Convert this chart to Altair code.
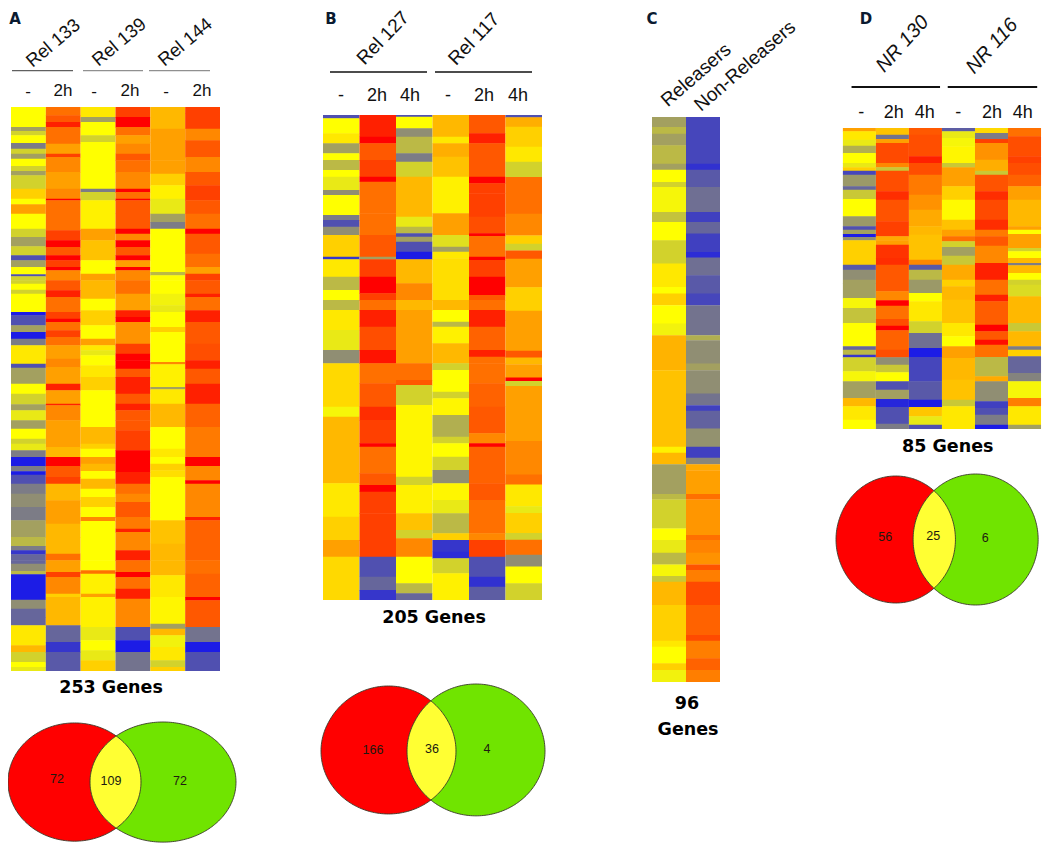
import altair as alt
import numpy as np
import pandas as pd

# Expression level of each heat-map column as (level, span) runs, top to bottom.
# Level: 0 blue, 2 gray, 3 olive, 5 yellow, 7 orange, 10 red.
A1 = [(5,60),(3,12),(4,13),(5,23),(2,17),(4,15),(3,15),(5,22),(4,15),(3,13),(4,40),(6,30),(5,17),(7,28),(5,45),(4,25),(3,28),(4,27),(1,15),(3,20),(5,22),(1,6),(4,12),
      (4,10),(5,18),(4,12),(5,55),(0,10),(1,30),(3,20),(0,20),(2,20),(5.5,55),(1,12),(3,48),(5,30),(4,32),(3,18),(4.5,30),(3,25),(5,30),(4,15),(4.5,20),(2,20),(0,27),(2,16),(0,10),(1,27),(2,30),(2.5,40),(2,40),(3,50),(3.5,27),(2,13),(0.5,12),(1.5,18),
      (1.5,10),(2.5,22),(3.5,10),(0,76),(2.5,27),(1.5,25),(1.5,25),(5.5,60),(6.5,20),(4,30),(5,15),(4.5,12)]
A2 = [(8,25),(8.5,20),(9.5,15),(8,50),(7,30),(9,10),(7.5,45),(7,50),(7.5,30),(10,5),(8,90),(9,30),(10,20),(8.5,25),(10,15),(9,20),(10,10),(7.5,30),
      (8.5,30),(9.5,20),(8,45),(9,20),(10,10),(8,25),(9,20),(8,25),(7,40),(7.5,25),(7,50),(9.5,20),(7,40),(9.5,5),(7.5,45),(7,80),(6.5,30),(10,27),(8.5,33),(9,20),(6.5,50),(7,40),(7,30),(6.5,40),(6.5,50),(8,20),
      (7,35),(9,15),(7.5,50),(6,10),(6.5,85),(1.5,50),(0.5,30),(1.2,57)]
A3 = [(5.5,30),(3,15),(5,40),(4,20),(5,140),(2,10),(4,25),(5.3,85),(7,35),(6.3,60),(5,40),(7,20),
      (6.5,55),(5,35),(6,45),(5,40),(7,20),(5.5,15),(4.5,15),(5,30),(5.5,35),(6,40),(5,110),(6.5,50),(6,15),(5,25),(7,20),(6.5,22),(5,23),(6.5,30),(5,25),(6,30),(5,30),(7.5,12),(5,118),
      (5,30),(8,10),(5.3,60),(7,10),(5.3,90),(4.5,40),(5,30),(4.5,30),(6,32)]
A4 = [(9,30),(10,30),(8,25),(7,25),(7.5,30),(8.5,20),(8,35),(7.5,50),(10,10),(8,20),(10,5),(8.5,40),(8.5,45),(10,15),(7.5,20),(10,20),(8.5,25),(10,15),(7,20),(10,10),(7.5,30),
      (8,40),(7,50),(9.5,20),(10,15),(7.3,65),(9,30),(10,20),(10,25),(8.5,25),(9.5,50),(8.5,30),(9.5,20),(8.5,30),(8.5,30),(9,60),(10,65),(9.5,35),(8,30),(7.5,25),(8.5,45),(7.8,35),(9.5,10),(7.5,55),(9.5,30),
      (8,35),(10,15),(8,35),(9.5,30),(7.5,85),(1,40),(0,35),(1.8,57)]
A5 = [(6.5,65),(7,40),(7,55),(7,40),(6,35),(5.3,40),(4.5,45),(3,25),(2,20),(5,130),(3.5,10),(5,15),
      (5,40),(4.7,35),(4.5,20),(5,45),(6,15),(5,90),(7.5,7),(5.3,68),(3,7),(5.5,43),(6.5,70),(5,65),(5.5,25),(5,20),(6,20),(5.7,20),(5,130),(6.3,70),(6.5,50),
      (6.5,45),(5.5,65),(5.2,80),(3,15),(6.5,20),(4.7,35),(5.5,40),(4,20),(6,12)]
A6 = [(9,20),(9,45),(7.5,35),(8.5,50),(7.5,45),(8.5,40),(9,45),(8.5,40),(8,45),(10,15),(8.5,60),(8,40),(7,20),(9,20),
      (8.5,40),(9.5,10),(8,40),(9.5,35),(8.5,65),(8.7,50),(9.5,25),(8.5,45),(9.5,60),(8.3,70),(7.8,90),(10,27),(7.5,43),(10,10),(7.5,100),(9.5,10),(8.3,120),
      (8,40),(8.3,70),(10,10),(8.5,80),(1.8,45),(0,30),(1,57)]

B1 = [(1,10),(5,45),(5.5,30),(3,30),(5,20),(3.5,30),(5,20),(4.5,40),(2.5,15),(5,60),(2,15),(1,20),(2.5,25),(6,65),(0.5,8),(5.5,52),(3.5,40),(5,30),
      (3.5,30),(5.5,60),(4.5,60),(2.5,40),(5.8,130),(4.8,30),(6.5,200),(5.5,100),(6,70),(7,50),(5.8,130)]
B2 = [(9.5,65),(10,20),(8.5,50),(9,50),(10,15),(8,95),(8,20),(8,45),(8.5,65),(3,8),(9,52),(10,50),(9,20),
      (8,30),(9.5,50),(8.7,70),(9.7,40),(8,60),(8.5,70),(9.3,40),(9,70),(10,10),(8,80),(8.5,35),(10,20),(9,65),(9,80),(9,50),(1,60),(1.5,40),(0.5,30)]
B3 = [(1,5),(5,35),(2.5,25),(3.5,50),(2,25),(4,45),(6.5,120),(4.5,30),(3.5,20),(1,10),(3,15),(1,30),(0,23),(6.5,72),(7.5,50),
      (6.5,30),(7,160),(8,50),(8.5,15),(4,60),(5.2,215),(4,25),(5.3,85),(6.3,50),(4,25),(7.5,55),(5,30),(5,50),(3.5,30),(1.5,20)]
B4 = [(6.5,65),(5.5,20),(6.7,40),(6.3,60),(5.3,110),(7,65),(4.3,35),(3,15),(5.5,20),(5.7,125),
      (6.5,30),(5,35),(3.5,15),(5.3,50),(6.5,60),(4,20),(5,65),(4,20),(5.2,50),(3.3,65),(4,20),(5,40),(4,40),(2.5,40),(5.2,50),(4.5,40),(3.5,60),(6,20),(0.5,35),(0.3,20),(4,45),(5.3,80)]
B5 = [(8.5,55),(9.5,30),(8.5,100),(10,20),(9,30),(9,70),(8.7,50),(10,8),(8,62),(10,10),(9,50),(10,55),(8.5,15),
      (8,30),(9.5,30),(9.5,20),(8.3,70),(9.5,20),(8,20),(8,60),(8.3,70),(8.5,80),(7.5,30),(10,10),(8.3,110),(8.5,50),(8,100),(7.5,20),(9,50),(1,60),(0.4,30),(1.3,40)]
B6 = [(1,7),(6.7,28),(6,60),(5.5,45),(4,45),(8,110),(7.5,65),(6,25),(4,20),(8.5,25),(7,85),(6,40),
      (6,30),(7,120),(8.5,20),(6.5,20),(7,40),(10,10),(4,15),(7,165),(7.5,100),(8,30),(5.5,65),(4.5,20),(6,60),(4,20),(8,45),(2.5,35),(5,50),(4,50)]

C1 = [(3,30),(3.5,20),(3,35),(3.5,55),(3,18),(5,37),(4,15),(4.8,75),(3.7,30),(5,55),(4,70),(5.5,70),(5,20),(6,35),(5,55),(4.7,35),(6.6,105),
      (6.3,230),(5.3,18),(6.5,34),(3,36),(3,54),(3.5,16),(4,87),(5,35),(4.5,38),(3.5,35),(4.8,35),(3.8,17),(6.5,70),(6,107),(5.5,18),(5,50),(6,20),(4.7,36)]
C2 = [(0.8,140),(0.4,18),(1.2,52),(1.7,75),(0.7,30),(1.5,35),(0.7,55),(0.3,17),(1.7,53),(1.2,55),(0.8,35),(1.8,90),(3.3,15),(2.5,50),(2.5,20),(3,20),
      (2.5,70),(1.8,35),(0.7,17),(1.4,53),(2.6,55),(0.7,33),(2.3,19),(6.8,18),(7,72),(8,16),(7.2,107),(8,15),(7.6,38),(7.3,35),(8.6,17),(7.7,35),(8.8,70),(8.3,90),(8.8,17),(7.7,53),(8.3,35),(7.7,36)]

D1 = [(7,10),(5.5,25),(4.5,18),(3.3,22),(5,30),(4.5,13),(6,10),(0.8,12),(2.8,35),(1.5,10),(3.8,28),(5,52),(2.8,30),(1,10),(3,13),(0,9),(2.5,10),(6,73),(1.2,15),(2.5,30),
      (3,10),(3,45),(4.8,30),(3.7,45),(5,70),(1.5,10),(3.5,15),(0.5,8),(4,42),(4.8,30),(3,50),(6.5,25),(5.5,40),(5,28)]
D2 = [(6.3,20),(1.8,13),(7,12),(8.8,60),(7.5,13),(3.8,10),(8.7,62),(9.3,25),(8.6,65),(9,45),(6.8,12),(7,13),(9.2,40),(9.3,20),(8.5,45),
      (8.5,35),(7.5,27),(10,16),(8,40),(8.7,20),(10,14),(8.3,58),(8.7,23),(2.5,22),(3.8,23),(5,27),(1,25),(3,28),(0.2,24),(1,50),(2,16)]
D3 = [(8.5,20),(8.7,65),(9.5,20),(8.7,35),(7.8,60),(7.3,45),(6.8,50),(6.5,25),(6.3,75),(7.5,15),(1.2,15),(3.5,30),
      (2.8,40),(5,25),(5.5,60),(4,35),(1.7,45),(0,27),(0.8,73),(1.2,55),(0,22),(6.2,28),(4.5,25),(1,13)]
D4 = [(1.3,10),(4.5,20),(4.8,25),(5.2,50),(3.8,13),(7,57),(6,40),(5.1,60),(6.3,30),(7,20),(8,15),(4,17),(3,26),(3.8,27),(6.8,45),
      (6,20),(6.5,40),(6.3,70),(5.5,40),(5,30),(7,35),(6.5,65),(6.3,60),(3.8,20),(5.5,68)]
D5 = [(5.8,15),(2,18),(9,12),(7.3,50),(6.7,33),(3.8,12),(8.6,50),(9.3,25),(8.8,60),(9.3,30),(7.8,20),(8.5,28),(7.5,52),(9.5,50),
      (8,45),(9.5,20),(8.4,70),(10,20),(8.5,25),(9.8,15),(8,37),(3.5,58),(6.8,15),(2.5,60),(0.7,20),(1,20),(2,30),(0,13)]
D6 = [(8,25),(8.7,60),(9,20),(8.7,35),(8.3,35),(7,40),(6.5,80),(7,10),(5,13),(7,42),(4,10),(5,20),(6.5,15),(2,7),(6.5,23),(5,20),
      (4,15),(4.2,35),(6.5,80),(3.8,25),(6.5,45),(2,10),(6,20),(1.5,50),(2.2,25),(4.8,50),(7.7,25),(5.5,55),(3,13)]

PANELS = [
    ([A1, A2, A3, A4, A5, A6], 11, 220, 107, 671),
    ([B1, B2, B3, B4, B5, B6], 323, 542, 115, 600),
    ([C1, C2], 652, 720, 117, 682),
    ([D1, D2, D3, D4, D5, D6], 843, 1049, 128, 429),
]

# Venn sets: centre x, centre y, radius x, radius y
VENNS = [
    ((74.5, 786, 66.5, 63), (163, 786, 73, 64)),
    ((388.5, 753, 67.5, 67), (476, 753, 69, 69)),
    ((898, 539.5, 62, 63.5), (981, 539.5, 65, 65.5)),
]
VENN_RED, VENN_GREEN, VENN_YELLOW = "#ff0000", "#70e400", "#ffff33"

TITLES = [("253 Genes", 111, 688), ("205 Genes", 434, 618), ("96", 687, 704), ("Genes", 688, 731), ("85 Genes", 952, 447)]
LETTERS = [("A", 15, 19), ("B", 331, 19), ("C", 652, 19), ("D", 867, 19)]
COL_A = [("-", 28, 92), ("2h", 63, 91), ("-", 94, 92), ("2h", 130, 91), ("-", 166, 92), ("2h", 202, 91)]
COL_B = [("-", 341, 96), ("2h", 377, 96), ("4h", 410, 96), ("-", 448, 96), ("2h", 484, 96), ("4h", 518, 96)]
COL_D = [("-", 862, 113), ("2h", 896, 113), ("4h", 928, 113), ("-", 963, 113), ("2h", 998, 113), ("4h", 1030, 113)]
REL_A = [("Rel 133", 53, 43), ("Rel 139", 119, 42), ("Rel 144", 185, 42)]
REL_B = [("Rel 127", 383, 38), ("Rel 117", 474, 39)]
REL_C = [("Releasers", 696, 75), ("Non-Releasers", 745, 66)]
REL_D = [("NR 130", 905, 44), ("NR 116", 998, 46)]
VENN_NUMS = [("72", 57, 783), ("109", 111, 785), ("72", 180, 785),
             ("166", 373, 752), ("36", 432, 751), ("4", 487, 751),
             ("56", 887, 537), ("25", 937, 536), ("6", 991, 538)]
RULES = [(12, 73, 70.7, "#606060", 1.3), (83, 143, 70.7, "#909090", 1.3), (149, 210, 70.7, "#909090", 1.3),
         (330, 427, 72, "#111111", 1.3), (435, 532, 72, "#111111", 1.3),
         (852, 944, 87, "#111111", 2.2), (952, 1045, 87, "#111111", 2.2)]

X = alt.Scale(domain=[8, 840, 1050], range=[0, 832, 1034])
Y = alt.Scale(domain=[8, 722, 852], range=[0, 714, 836])
xq = lambda f: alt.X(f, type="quantitative", scale=X, axis=None)
yq = lambda f: alt.Y(f, type="quantitative", scale=Y, axis=None)

rows = []
for cols, x0, x1, y0, y1 in PANELS:
    w = (x1 - x0) / len(cols)
    for i, runs in enumerate(cols):
        total = sum(s for _, s in runs)
        c = 0
        for level, s in runs:
            rows.append(dict(x=x0 + i * w, x2=x0 + (i + 1) * w, y=y0 + c / total * (y1 - y0),
                             y2=min(y0 + (c + s) / total * (y1 - y0) + 0.4, y1), v=level))
            c += s
heat = alt.Chart(pd.DataFrame(rows)).mark_rect(strokeWidth=0).encode(
    x=xq("x"), x2="x2", y=yq("y"), y2="y2",
    color=alt.Color("v:Q", legend=None, scale=alt.Scale(
        interpolate="rgb",
        domain=[0, 1, 2, 3, 4, 5, 6, 7, 8, 9, 10],
        range=["#1c1ce6", "#5050b0", "#7c7c86", "#a3a060", "#d2d22c", "#ffff00",
               "#ffd000", "#ffa000", "#ff7000", "#ff4000", "#ff0000"])))

def arc(e, x):
    cx, cy, rx, ry = e
    return ry * np.sqrt(np.clip(1 - ((x - cx) / rx) ** 2, 0, 1))

def fill(e, color):
    xs = e[0] + e[2] * np.cos(np.linspace(np.pi, 0, 181))
    h = arc(e, xs)
    df = pd.DataFrame(dict(x=xs, y=e[1] - h, y2=e[1] + h))
    return alt.Chart(df).mark_area(color=color, opacity=1, strokeWidth=0).encode(x=xq("x"), y=yq("y"), y2="y2")

def lens(a, b, color):
    xs = np.linspace(b[0] - b[2], a[0] + a[2], 241)
    top = np.maximum(a[1] - arc(a, xs), b[1] - arc(b, xs))
    bot = np.minimum(a[1] + arc(a, xs), b[1] + arc(b, xs))
    keep = top < bot
    df = pd.DataFrame(dict(x=xs[keep], y=top[keep], y2=bot[keep]))
    return alt.Chart(df).mark_area(color=color, opacity=1, strokeWidth=0).encode(x=xq("x"), y=yq("y"), y2="y2")

def outline(e):
    t = np.linspace(0, 2 * np.pi, 241)
    df = pd.DataFrame(dict(x=e[0] + e[2] * np.cos(t), y=e[1] + e[3] * np.sin(t), t=t))
    return alt.Chart(df).mark_line(color="#3a3a2a", strokeWidth=0.9).encode(
        x=xq("x"), y=yq("y"), order=alt.Order("t:Q"))

def texts(items, **kw):
    df = pd.DataFrame(items, columns=["t", "x", "y"])
    kw.setdefault("color", "#111111")
    kw.setdefault("font", "Liberation Sans")
    return alt.Chart(df).mark_text(baseline="middle", **kw).encode(x=xq("x"), y=yq("y"), text="t:N")

rules = alt.Chart(pd.DataFrame(RULES, columns=["x", "x2", "y", "c", "w"])).mark_rule().encode(
    x=xq("x"), x2="x2", y=yq("y"),
    color=alt.Color("c:N", scale=None), strokeWidth=alt.StrokeWidth("w:Q", scale=None))

layers = [heat, rules]
for a, b in VENNS:
    layers += [fill(a, VENN_RED), fill(b, VENN_GREEN), lens(a, b, VENN_YELLOW), outline(a), outline(b)]
layers += [
    texts(TITLES, font="DejaVu Sans", fontWeight="bold", fontSize=17.5, align="center", color="#000000"),
    texts(LETTERS, font="DejaVu Sans", fontWeight="bold", fontSize=15, align="center", color="#0a1a30"),
    texts(COL_A, fontSize=17, align="center"),
    texts(COL_B, fontSize=18, align="center"),
    texts(COL_D, fontSize=18, align="center"),
    texts(REL_A, fontSize=18.5, align="center", angle=320),
    texts(REL_B, fontSize=19, align="center", angle=314),
    texts(REL_C, fontSize=19, align="center", angle=319),
    texts(REL_D, fontSize=20, align="center", angle=312, fontStyle="italic"),
    texts(VENN_NUMS, fontSize=12.5, align="center", color="#201a10"),
]

chart = alt.layer(*layers).resolve_scale(color="independent").properties(
    width=1034, height=836, padding=0, autosize=alt.AutoSizeParams(type="none"),
).configure_view(stroke=None)

chart.save("out.html", embed_options={"renderer": "svg", "actions": False})
